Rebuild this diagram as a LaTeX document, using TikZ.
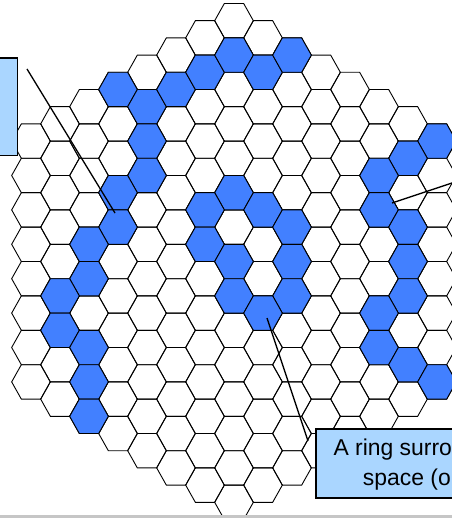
\documentclass[tikz,border=0pt]{standalone}
\usepackage{fontspec}
\setmainfont{Liberation Sans}
\usepackage{tikz}
\usepackage{xcolor}
\definecolor{cellblue}{RGB}{66,128,255}
\definecolor{noteblue}{RGB}{170,214,255}
\newcommand{\hexcellpath}{(-19.33,0) -- (-9.67,-17.2) -- (9.67,-17.2) -- (19.33,0) -- (9.67,17.2) -- (-9.67,17.2) -- cycle}

\begin{document}
\begin{tikzpicture}[x=1bp, y=-1bp,
  hexcell/.style={draw=black, line width=0.9bp},
  notebox/.style={draw=black, line width=1.6bp, fill=noteblue, inner sep=0pt},
  pointer/.style={draw=black, line width=1.3bp},
  notetext/.style={anchor=base west, inner sep=0pt, font=\fontsize{23}{27}\selectfont}]
\useasboundingbox (0,0) rectangle (452,518);
\clip (0,0) rectangle (452,518);
% the grid, column q = -7..7
\foreach \q in {-7,...,7}{
  \pgfmathtruncatemacro{\tmax}{14-abs(\q)}
  \pgfmathtruncatemacro{\tnext}{2-\tmax}
  \foreach \t in {-\tmax,\tnext,...,\tmax}
    \draw[hexcell, shift={(234+29*\q,261.5+17.2*(\t))}] \hexcellpath;
}
% coloured cells
\foreach \q/\t in {-4/-10,-3/-9,-2/-10,-1/-11,0/-12,1/-11,2/-12,
    -3/-7,-3/-5,-4/-4,-4/-2,-5/-1,-5/1,-6/2,-6/4,-5/5,-5/7,-5/9,
    0/-4,-1/-3,1/-3,2/-2,-1/-1,0/0,2/0,0/2,2/2,1/3,
    7/-7,6/-6,5/-5,5/-3,6/-2,6/0,6/2,5/3,5/5,6/6,7/7}
  \draw[hexcell, fill=cellblue, shift={(234+29*\q,261.5+17.2*(\t))}] \hexcellpath;
% callouts
\node[notebox, anchor=north east, minimum width=60bp, minimum height=97bp] (leftnote) at (18.3,57.5) {};
\coordinate (leftfoot) at (27,69);
\coordinate (lefttip) at (115,213);
\draw[pointer] (leftfoot) -- (lefttip);
\coordinate (rightfoot) at (482,173);
\coordinate (righttip) at (392,203);
\draw[pointer] (rightfoot) -- (righttip);
\node[notebox, anchor=north west, minimum width=200bp, minimum height=69bp] (ringnote) at (315,428) {};
\node[notetext] (ringtxta) at (333.3,455.7) {A ring surro};
\node[notetext] (ringtxtb) at (362.7,485) {space (o};
\coordinate (ringfoot) at (308,441);
\coordinate (ringtip) at (267,318);
\draw[pointer] (ringfoot) -- (ringtip);
\fill[gray!45] (0,515) rectangle (452,518);
\end{tikzpicture}
\end{document}
